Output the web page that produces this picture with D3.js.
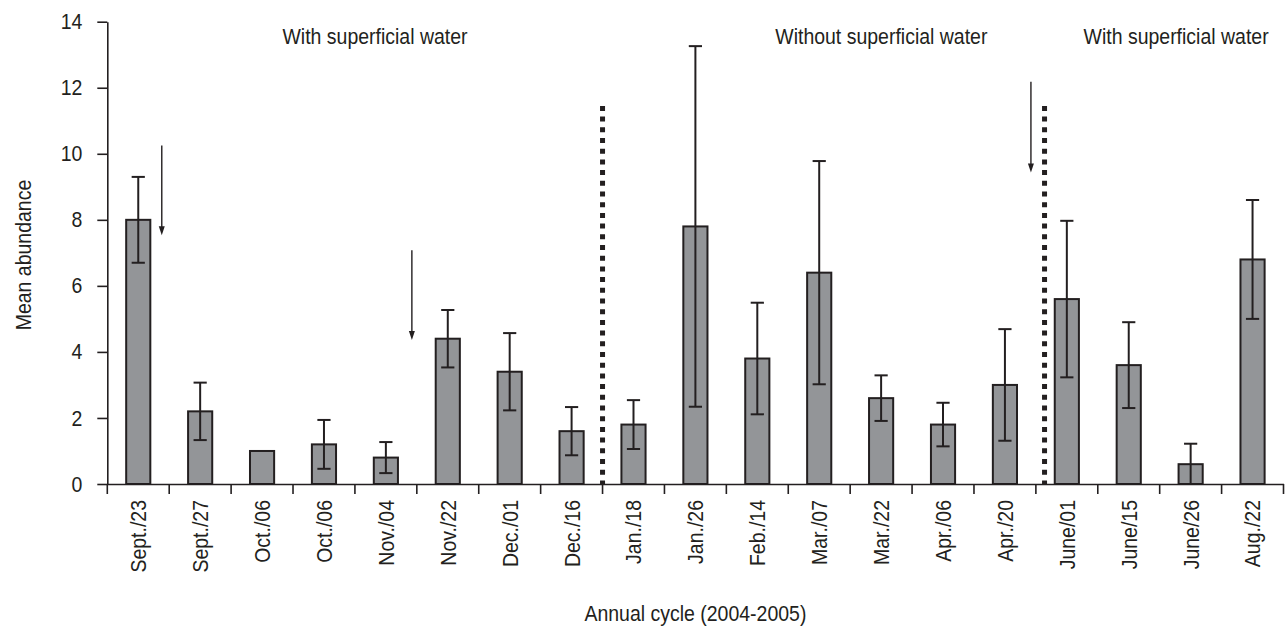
<!DOCTYPE html>
<html>
<head>
<meta charset="utf-8">
<script src="https://cdn.jsdelivr.net/npm/d3@7"></script>
<style>
  html, body { margin: 0; padding: 0; background: #fff; }
  svg { display: block; }
  text { font-family: 'Liberation Sans', Arial, sans-serif; fill: #231f20; }
</style>
</head>
<body>
<svg id="chart" width="1286" height="626"></svg>
<script>
// ---- data ----
const categories = ["Sept./23","Sept./27","Oct./06","Oct./06","Nov./04","Nov./22","Dec./01","Dec./16",
  "Jan./18","Jan./26","Feb./14","Mar./07","Mar./22","Apr./06","Apr./20","June/01","June/15","June/26","Aug./22"];
const means  = [8.0, 2.2, 1.0, 1.2, 0.8, 4.4, 3.4, 1.6, 1.8, 7.8, 3.8, 6.4, 2.6, 1.8, 3.0, 5.6, 3.6, 0.6, 6.8];
const errors = [1.3, 0.87, 0, 0.74, 0.47, 0.87, 1.17, 0.73, 0.74, 5.46, 1.69, 3.38, 0.69, 0.66, 1.69, 2.37, 1.3, 0.62, 1.8];
const yTicks = [0, 2, 4, 6, 8, 10, 12, 14];
const sectionLabels = ["With superficial water", "Without superficial water", "With superficial water"];
const sectionStart = [2.83, 10.79, 15.77];   // category-index position of label start
const sectionLevel = 13.32;                   // value of label baseline
const dividerPos = [8.0, 15.14];              // category-index positions of dotted lines
const dividerTop = 11.45;
const arrowPos = [0.88, 4.92, 14.92];
const arrowFrom = [10.25, 7.08, 12.18];
const arrowTo = [7.53, 4.36, 9.43];
const xTitle = "Annual cycle (2004-2005)";
const yTitle = "Mean abundance";

// ---- layout ----
const svg = d3.select("#chart");
const mLeft = 107.3, mRight = 1283.5, mTop = 21.7, mBottom = 484;
const ink = "#231f20";
const FS = 22;      // font size
const K = 0.886;    // horizontal condensing (reference uses a condensed face)

const x = d3.scaleBand().domain(d3.range(categories.length)).range([mLeft, mRight]).paddingInner(0).paddingOuter(0);
const pos = d3.scaleLinear().domain([0, categories.length]).range([mLeft, mRight]);
const y = d3.scaleLinear().domain([0, 14]).range([mBottom, mTop]);
const barW = x.bandwidth() * 0.39;

// y axis
const yAxis = svg.append("g").attr("transform", `translate(${mLeft},0)`)
  .call(d3.axisLeft(y).tickValues(yTicks).tickSize(10).tickSizeOuter(0).tickPadding(15));
yAxis.select(".domain").attr("stroke", ink).attr("stroke-width", 1.6);
yAxis.selectAll(".tick line").attr("stroke", ink).attr("stroke-width", 1.6);
yAxis.selectAll(".tick text").attr("font-size", FS).attr("fill", ink)
  .style("font-family", "'Liberation Sans', Arial, sans-serif")
  .attr("x", -25 / K).attr("transform", `scale(${K},1)`);

// bars
svg.append("g").selectAll("rect").data(means).join("rect")
  .attr("x", (d, i) => x(i) + x.bandwidth() / 2 - barW / 2)
  .attr("y", d => y(d))
  .attr("width", barW)
  .attr("height", d => y(0) - y(d))
  .attr("fill", "#939598")
  .attr("stroke", ink)
  .attr("stroke-width", 2);

// error bars
const capW = 6.6;
const eb = svg.append("g").attr("stroke", ink).attr("stroke-width", 2);
means.forEach((m, i) => {
  const e = errors[i];
  if (e <= 0) return;
  const cx = x(i) + x.bandwidth() / 2;
  eb.append("line").attr("x1", cx).attr("x2", cx).attr("y1", y(m + e)).attr("y2", y(Math.max(0, m - e)));
  eb.append("line").attr("x1", cx - capW).attr("x2", cx + capW).attr("y1", y(m + e)).attr("y2", y(m + e));
  if (m - e > 0.02)
    eb.append("line").attr("x1", cx - capW).attr("x2", cx + capW).attr("y1", y(m - e)).attr("y2", y(m - e));
});

// x axis
const xAxis = svg.append("g").attr("transform", `translate(0,${mBottom})`)
  .call(d3.axisBottom(x).tickSize(0).tickSizeOuter(0).tickFormat(i => categories[i]));
xAxis.select(".domain").attr("stroke", ink).attr("stroke-width", 1.6);
xAxis.selectAll(".tick text")
  .attr("font-size", FS).attr("fill", ink)
  .style("font-family", "'Liberation Sans', Arial, sans-serif")
  .attr("transform", `rotate(-90) scale(${K},1)`)
  .attr("text-anchor", "end")
  .attr("x", -16 / K).attr("y", 0).attr("dy", "0.36em");
// boundary ticks
svg.append("g").selectAll("line").data(d3.range(categories.length + 1)).join("line")
  .attr("x1", d => pos(d)).attr("x2", d => pos(d))
  .attr("y1", mBottom).attr("y2", mBottom + 10)
  .attr("stroke", ink).attr("stroke-width", 1.6);

// dotted dividers
svg.append("g").selectAll("line").data(dividerPos).join("line")
  .attr("x1", d => pos(d)).attr("x2", d => pos(d))
  .attr("y1", y(dividerTop)).attr("y2", mBottom)
  .attr("stroke", ink).attr("stroke-width", 5)
  .attr("stroke-dasharray", "5,5.7");

// arrows
arrowPos.forEach((p, i) => {
  const ax = pos(p), tip = y(arrowTo[i]);
  svg.append("line")
    .attr("x1", ax).attr("x2", ax)
    .attr("y1", y(arrowFrom[i])).attr("y2", tip - 8)
    .attr("stroke", ink).attr("stroke-width", 1.4);
  svg.append("path")
    .attr("d", `M${ax - 3},${tip - 9} L${ax + 3},${tip - 9} L${ax},${tip} Z`)
    .attr("fill", ink);
});

// section labels
svg.append("g").selectAll("text").data(sectionLabels).join("text")
  .attr("transform", (d, i) => `translate(${pos(sectionStart[i])},${y(sectionLevel)}) scale(${K},1)`)
  .attr("font-size", FS)
  .text(d => d);

// axis titles
svg.append("text").attr("transform", `translate(${(mLeft + mRight) / 2},621) scale(${K},1)`)
  .attr("text-anchor", "middle").attr("font-size", FS).text(xTitle);
svg.append("text").attr("transform", `translate(31,255) rotate(-90) scale(${K},1)`)
  .attr("text-anchor", "middle").attr("font-size", FS).text(yTitle);
</script>
</body>
</html>
